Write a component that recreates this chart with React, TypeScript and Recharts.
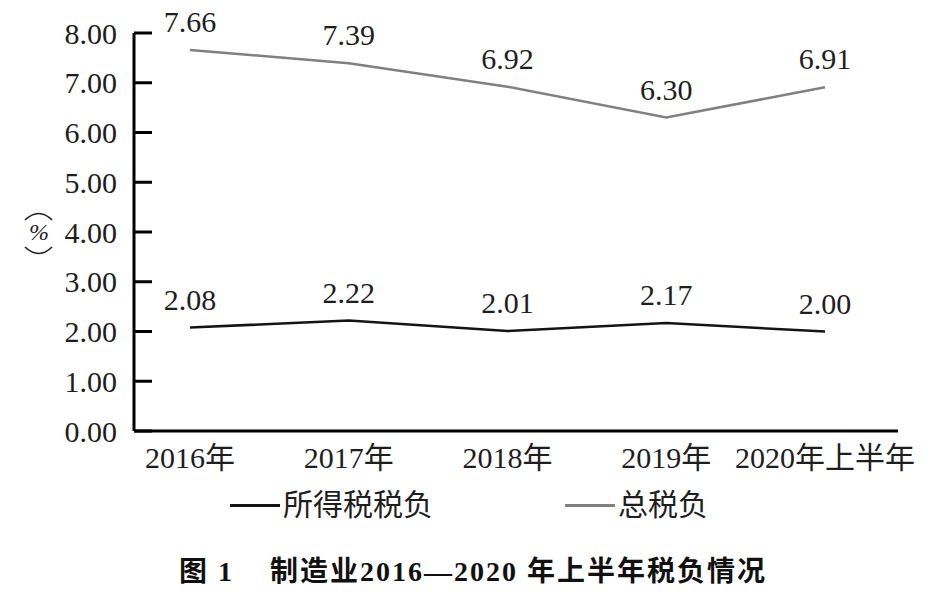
import React from 'react';
import { LineChart, Line, XAxis, YAxis, Legend, LabelList } from 'recharts';

const categories = ['2016年', '2017年', '2018年', '2019年', '2020年上半年'];
const incomeTaxBurden = [2.08, 2.22, 2.01, 2.17, 2.0];
const totalTaxBurden = [7.66, 7.39, 6.92, 6.3, 6.91];
const yTicks = [0, 1, 2, 3, 4, 5, 6, 7, 8];
const seriesNames = { income: '所得税税负', total: '总税负' };
const yUnit = '%';
const captionLead = '图 1';
const captionText = '制造业2016—2020 年上半年税负情况';

const data = categories.map((name, i) => ({
  name,
  income: incomeTaxBurden[i],
  total: totalTaxBurden[i],
}));

const FONT = '"Liberation Serif", "Noto Sans CJK SC", serif';
const TEXT = '#1e1e1e';

const fmt = (v: any) => Number(v).toFixed(2);

// unit label written vertically: an arc above, the percent sign, an arc below
const PercentLabel = (props: any) => {
  const vb = props.viewBox || { x: 0, y: 0, width: 0, height: 0 };
  const cx = vb.x + 39;
  const cy = vb.y + vb.height / 2;
  return (
    <g>
      <path d={`M${cx - 14},${cy - 12} Q${cx},${cy - 25} ${cx + 13},${cy - 12}`} fill="none" stroke={TEXT} strokeWidth={1.6} />
      <text x={cx} y={cy} textAnchor="middle" dominantBaseline="central" fill={TEXT} fontSize={24} fontStyle="italic" fontFamily='"Liberation Serif"'>
        {yUnit}
      </text>
      <path d={`M${cx - 14},${cy + 15} Q${cx},${cy + 28} ${cx + 13},${cy + 15}`} fill="none" stroke={TEXT} strokeWidth={1.6} />
    </g>
  );
};

const legendOrder = [seriesNames.income, seriesNames.total];

const renderLegend = (props: any) => {
  const payload = [...(props.payload || [])].sort(
    (a: any, b: any) => legendOrder.indexOf(a.value) - legendOrder.indexOf(b.value)
  );
  return (
    <div style={{ display: 'flex', alignItems: 'center', paddingLeft: 230, fontFamily: FONT, fontSize: 30, color: TEXT, lineHeight: '36px' }}>
      {payload.map((p: any, i: number) => (
        <div key={i} style={{ display: 'flex', alignItems: 'center', marginRight: i === 0 ? 132 : 0 }}>
          <span style={{ display: 'inline-block', width: 50, height: 3, background: p.color, marginRight: 3 }} />
          <span>{p.value}</span>
        </div>
      ))}
    </div>
  );
};

export default function App() {
  return (
    <div style={{ position: 'absolute', left: 0, top: 0, width: 946, height: 615, background: '#fff' }}>
      <LineChart width={946} height={540} data={data} margin={{ top: 33, right: 48, bottom: 23, left: 0 }}>
        <XAxis
          dataKey="name"
          height={50}
          padding={{ left: 56, right: 73 }}
          axisLine={{ stroke: '#000', strokeWidth: 3 }}
          tickLine={false}
          tickSize={0}
          tickMargin={16}
          tick={{ fontSize: 30, fill: TEXT, fontFamily: FONT }}
          interval={0}
        />
        <YAxis
          width={134}
          domain={[0, 8]}
          ticks={yTicks}
          interval={0}
          tickFormatter={fmt}
          axisLine={{ stroke: '#000', strokeWidth: 3 }}
          tickLine={{ stroke: '#000', strokeWidth: 3 }}
          tickSize={-18}
          tickMargin={35}
          tick={{ fontSize: 30, fill: TEXT, fontFamily: FONT }}
          label={{ content: (p: any) => <PercentLabel {...p} /> }}
        />
        <Legend verticalAlign="bottom" height={36} content={renderLegend} wrapperStyle={{ top: 487, left: 0, width: 946 }} />
        <Line
          type="linear"
          dataKey="income"
          name={seriesNames.income}
          stroke="#141414"
          strokeWidth={2.5}
          dot={false}
          isAnimationActive={false}
        >
          <LabelList dataKey="income" position="top" offset={18} formatter={fmt} fontSize={30} fill={TEXT} fontFamily={FONT} />
        </Line>
        <Line
          type="linear"
          dataKey="total"
          name={seriesNames.total}
          stroke="#808080"
          strokeWidth={2.5}
          dot={false}
          isAnimationActive={false}
        >
          <LabelList dataKey="total" position="top" offset={18} formatter={fmt} fontSize={30} fill={TEXT} fontFamily={FONT} />
        </Line>
      </LineChart>
      <div
        style={{
          position: 'absolute',
          top: 556,
          left: 0,
          width: 946,
          textAlign: 'center',
          fontFamily: FONT,
          fontWeight: 'bold',
          fontSize: 28,
          letterSpacing: 2,
          color: '#111',
          lineHeight: '32px',
          whiteSpace: 'pre',
        }}
      >
        {captionLead}
        <span style={{ display: 'inline-block', width: 36 }} />
        {captionText}
      </div>
    </div>
  );
}
